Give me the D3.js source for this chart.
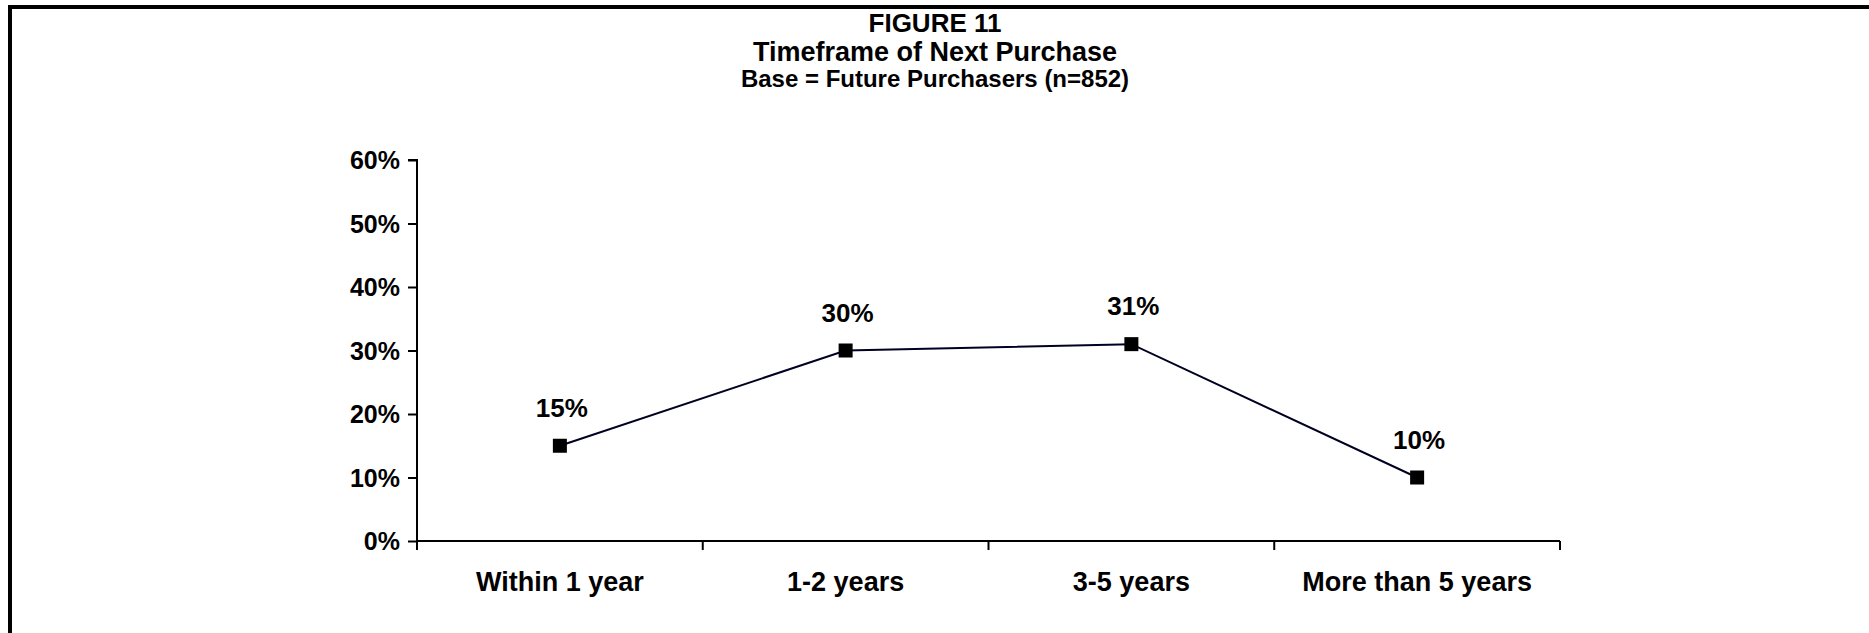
<!DOCTYPE html>
<html>
<head>
<meta charset="utf-8">
<script src="https://cdn.jsdelivr.net/npm/d3@7"></script>
<style>
  html, body { margin: 0; padding: 0; background: #fff; }
  svg { display: block; }
  text { font-family: Arial, "Liberation Sans", sans-serif; font-weight: bold; fill: #000; }
</style>
</head>
<body>
<svg id="chart" width="1869" height="633"></svg>
<script>
const categories = ["Within 1 year", "1-2 years", "3-5 years", "More than 5 years"];
const values = [15, 30, 31, 10];
const yTicks = [0, 10, 20, 30, 40, 50, 60];
const titleLines = ["FIGURE 11", "Timeframe of Next Purchase", "Base = Future Purchasers (n=852)"];

const W = 1869, H = 633;
const svg = d3.select("#chart");

// frame
svg.append("rect")
  .attr("x", 10).attr("y", 7)
  .attr("width", W - 10 + 10).attr("height", H)
  .attr("fill", "none").attr("stroke", "#000").attr("stroke-width", 4);

// titles
const titleSizes = [26, 27, 24];
const titleY = [32, 61, 87];
svg.selectAll("text.title").data(titleLines).enter().append("text")
  .attr("class", "title")
  .attr("x", 935).attr("y", (d, i) => titleY[i])
  .attr("text-anchor", "middle")
  .style("font-size", (d, i) => titleSizes[i] + "px")
  .text(d => d);

const plot = { left: 417, right: 1560, top: 160, bottom: 541 };

const x = d3.scaleBand().domain(categories).range([plot.left, plot.right]).padding(0);
const y = d3.scaleLinear().domain([0, 60]).range([plot.bottom, plot.top]);

// y axis
const yAxis = d3.axisLeft(y).tickValues(yTicks).tickSize(9).tickPadding(8).tickFormat(d => d + "%");
const gy = svg.append("g").attr("transform", `translate(${plot.left},0)`).call(yAxis);
gy.attr("font-family", null).attr("font-size", null);
gy.select(".domain").attr("stroke", "#000").attr("stroke-width", 2).attr("d", `M-9,${plot.top}H0V${plot.bottom}`);
gy.selectAll(".tick line").attr("stroke", "#000").attr("stroke-width", 2);
gy.selectAll(".tick text").style("font-size", "25px").attr("dy", "0.35em");

// x axis
const xAxis = d3.axisBottom(x).tickSize(0).tickPadding(0);
const gx = svg.append("g").attr("transform", `translate(0,${plot.bottom})`).call(xAxis);
gx.attr("font-family", null).attr("font-size", null);
gx.select(".domain").attr("stroke", "#000").attr("stroke-width", 2).attr("d", `M${plot.left},0H${plot.right}`);
gx.selectAll(".tick text").style("font-size", "27px").attr("y", 50).attr("dy", 0);
// boundary ticks between categories
const bounds = categories.map(c => x(c)).concat([x(categories[categories.length - 1]) + x.bandwidth()]);
gx.selectAll("line.bound").data(bounds).enter().append("line")
  .attr("class", "bound")
  .attr("x1", d => d).attr("x2", d => d)
  .attr("y1", 0).attr("y2", 9)
  .attr("stroke", "#000").attr("stroke-width", 2);

// line
const cx = c => x(c) + x.bandwidth() / 2;
const line = d3.line().x((d, i) => cx(categories[i])).y(d => y(d));
svg.append("path").datum(values)
  .attr("d", line).attr("fill", "none")
  .attr("stroke", "#000022").attr("stroke-width", 2);

// markers
svg.selectAll("rect.mk").data(values).enter().append("rect")
  .attr("class", "mk")
  .attr("x", (d, i) => cx(categories[i]) - 7)
  .attr("y", d => y(d) - 7)
  .attr("width", 14).attr("height", 14)
  .attr("fill", "#000");

// data labels
svg.selectAll("text.lbl").data(values).enter().append("text")
  .attr("class", "lbl")
  .attr("x", (d, i) => cx(categories[i]) + 2)
  .attr("y", d => y(d) - 29)
  .attr("text-anchor", "middle")
  .style("font-size", "26px")
  .text(d => d + "%");
</script>
</body>
</html>
